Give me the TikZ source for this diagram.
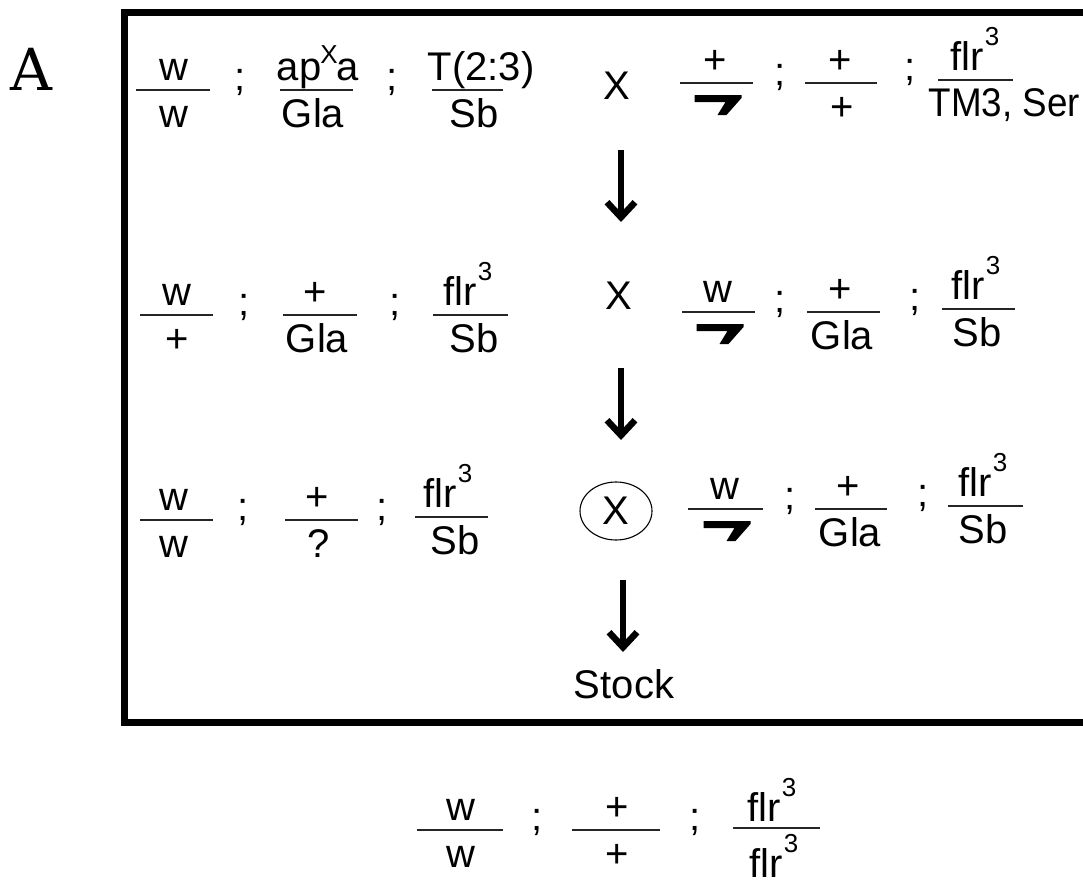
\documentclass[tikz,border=0pt]{standalone}
\usepackage{fontspec}
\setmainfont{Liberation Sans}
\newfontfamily\labelfont{DejaVu Serif}
\usetikzlibrary{arrows.meta,shapes.geometric}
\newcommand\cube{\hspace{1pt}\raisebox{25pt}{\fontsize{26}{26}\selectfont 3}}
\newcommand\apx{ap\hspace{-1pt}\raisebox{17pt}{\fontsize{26}{26}\selectfont X}\hspace{-1pt}a}
% fraction: name, bar left, bar right, bar y, num x, num, den x, den
\newcommand\frc[8]{%
  \draw[fbar] (#2,#4) -- (#3,#4);
  \node[txt] (#1n) at (#5,#4-10) {#6};
  \node[txt] (#1d) at (#7,#4+37) {#8};
}
% fraction with the hooked bar as denominator: name, bar left, bar right, bar y, num x, num, hook centre x
\newcommand\frch[7]{%
  \draw[fbar] (#2,#4) -- (#3,#4);
  \node[txt] (#1n) at (#5,#4-10) {#6};
  \coordinate (#1d) at (#7-23.5,#4+12);
  \fill (#1d) -- ++(47,0) -- ++(0,3) -- ++(-15,17) -- ++(-9,0) -- ++(8,-13) -- ++(-31,0) -- cycle;
}
\begin{document}
\begin{tikzpicture}[x=1pt,y=-1pt,
  txt/.style={inner sep=0pt,outer sep=0pt,font=\fontsize{40}{44}\selectfont,anchor=base},
  fbar/.style={line width=1.8pt,draw=black!85},
  flow/.style={line width=6.5pt,-{Straight Barb[length=15pt,width=28pt]}},
  frame/.style={line width=7pt,draw=black}
]
\path[use as bounding box] (0,0) rectangle (1083,886);
\clip (0,0) rectangle (1083,886);
\fill[white] (0,0) rectangle (1083,886);

% frame (right side lies beyond the picture)
\draw[frame] (1120,12) -- (124,12) -- (124,722) -- (1120,722);
\node[font=\labelfont\fontsize{58}{60}\selectfont,inner sep=0pt,anchor=base] (lbl) at (31,90) {A};

% ---- row 1
\frc{r1a}{136}{210}{90}{174}{w}{174}{w}
\node[txt] (r1s1) at (240,90) {;};
\frc{r1b}{280}{353}{90}{318}{\apx}{313}{Gla}
\node[txt] (r1s2) at (392,90) {;};
\frc{r1c}{432}{503}{90}{481}{T(2:3)}{474}{Sb}
\node[txt,anchor=center] (x1) at (617,86) {X};
\frch{r1d}{680}{753}{83}{715}{+}{718}
\node[txt] (r1s3) at (780,85) {;};
\frc{r1e}{805}{877}{83}{840}{+}{842}{+}
\node[txt] (r1s4) at (910,80) {;};
\draw[fbar] (938,80) -- (1013,80);
\node[txt] (r1fn) at (975,70) {flr\cube};
\node[txt,anchor=base east] (r1fd) at (1080,116) {\scalebox{0.92}[1]{TM3, Ser}};

% ---- row 2
\frc{r2a}{140}{213}{315}{177}{w}{177}{+}
\node[txt] (r2s1) at (244,315) {;};
\frc{r2b}{283}{357}{315}{315}{+}{317}{Gla}
\node[txt] (r2s2) at (395,315) {;};
\frc{r2c}{433}{508}{315}{468}{flr\cube}{474}{Sb}
\node[txt,anchor=center] (x2) at (619,296) {X};
\frch{r2d}{682}{755}{312}{718}{w}{720}
\node[txt] (r2s3) at (780,312) {;};
\frc{r2e}{807}{880}{312}{840}{+}{842}{Gla}
\node[txt] (r2s4) at (915,310) {;};
\frc{r2f}{942}{1015}{309}{976}{flr\cube}{977}{Sb}

% ---- row 3
\frc{r3a}{140}{213}{520}{174}{w}{174}{w}
\node[txt] (r3s1) at (243,520) {;};
\frc{r3b}{285}{358}{520}{317}{+}{319}{?}
\node[txt] (r3s2) at (382,520) {;};
\frc{r3c}{415}{488}{517}{448}{flr\cube}{455}{Sb}
\node[txt,anchor=center,draw,ellipse,line width=1.1pt,minimum width=72pt,minimum height=58pt] (x3) at (616,511) {X};
\frch{r3d}{688}{763}{509}{725}{w}{727}
\node[txt] (r3s3) at (790,509) {;};
\frc{r3e}{815}{887}{509}{848}{+}{850}{Gla}
\node[txt] (r3s4) at (923,506) {;};
\frc{r3f}{948}{1023}{506}{983}{flr\cube}{983}{Sb}

% ---- arrows and stock
\coordinate (a1s) at (621,150);
\coordinate (a1e) at (621,222);
\coordinate (a2s) at (621,368);
\coordinate (a2e) at (621,440);
\coordinate (a3s) at (623,580);
\coordinate (a3e) at (623,652);
\draw[flow] (a1s) -- (a1e);
\draw[flow] (a2s) -- (a2e);
\draw[flow] (a3s) -- (a3e);
\node[txt] (stock) at (624,698) {Stock};

% ---- result below the frame
\frc{b1}{417}{503}{830}{461}{w}{461}{w}
\node[txt] (bs1) at (537,830) {;};
\frc{b2}{572}{660}{830}{617}{+}{617}{+}
\node[txt] (bs2) at (695,830) {;};
\draw[fbar] (733,828) -- (820,828);
\node[txt] (b3n) at (772,821) {flr\cube};
\node[txt] (b3d) at (774,877) {flr\cube};
\end{tikzpicture}
\end{document}
